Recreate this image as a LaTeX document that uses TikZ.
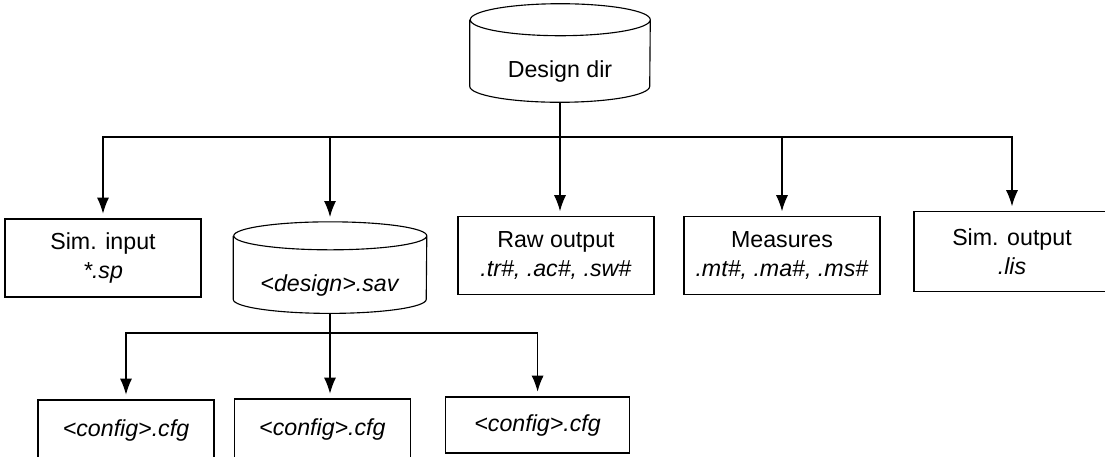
\documentclass[tikz,border=0pt]{standalone}
\usepackage{fontspec}
\setmainfont{Liberation Sans}
\usetikzlibrary{arrows.meta}

\newcommand{\lowtext}[1]{\raisebox{-0.6cm}[0pt][0pt]{#1}}
% drum outline round a named node: node, x radius, y radius
\newcommand{\drumoutline}[3]{%
    \draw[line width=0.8pt] ([yshift=-#3]#1.north west) -- ([yshift=#3]#1.south west)
        arc[start angle=180, end angle=360, x radius=#2, y radius=#3]
        -- ([yshift=-#3]#1.north east)
        arc[start angle=0, end angle=360, x radius=#2, y radius=#3];}

\tikzset{
    filebox/.style={draw, line width=0.8pt, minimum width=4.9cm, minimum height=1.95cm,
        align=center, font=\fontsize{16.5}{21}\selectfont},
    cfgbox/.style={filebox, minimum width=4.4cm, minimum height=1.5cm},
    dirdb/.style={inner sep=0pt, minimum width=4.5cm, minimum height=2.45cm,
        font=\fontsize{16.5}{21}\selectfont},
    link/.style={line width=0.8pt, -{Latex[length=0.4cm,width=0.3cm]}, shorten >=0.12cm}
}

\begin{document}
\begin{tikzpicture}
        \useasboundingbox (0, 0) rectangle (27.625, -11.4);

        \node[dirdb] (dsgn) at (14, -1.325) {\lowtext{Design dir}};
        \drumoutline{dsgn}{2.25cm}{0.4cm}
        \coordinate (hub) at (14, -3.425);

        \node[filebox] (simin) at (2.575, -6.45) {Sim. input\\\textit{*.sp}};
        \node[dirdb, minimum width=4.825cm, minimum height=2.275cm] (sav) at (8.25, -6.69) {\lowtext{\textit{<design>.sav}}};
        \drumoutline{sav}{2.4125cm}{0.35cm}
        \node[filebox] (raw) at (13.9, -6.39) {Raw output\\\textit{.tr\#, .ac\#, .sw\#}};
        \node[filebox] (meas) at (19.55, -6.39) {Measures\\\textit{.mt\#, .ma\#, .ms\#}};
        \node[filebox, minimum height=2cm] (simout) at (25.3, -6.29) {Sim. output\\\textit{.lis}};

        \coordinate (subhub) at (8.25, -8.325);
        \node[cfgbox] (cfga) at (3.15, -10.75) {\textit{<config>.cfg}};
        \node[cfgbox] (cfgb) at (8.06, -10.725) {\textit{<config>.cfg}};
        \node[cfgbox, minimum width=4.6cm, minimum height=1.4cm] (cfgc) at (13.44, -10.625) {\textit{<config>.cfg}};

        % design dir to its contents
        \draw[line width=0.8pt] (dsgn.south) -- (hub);
        \draw[link] (hub) -| (simin.north);
        \draw[link] (hub -| sav.north) -- (sav.north);
        \draw[link] (hub) -- (hub |- raw.north);
        \draw[link] (hub -| meas.north) -- (meas.north);
        \draw[link] (hub) -| (simout.north);

        % saved configurations
        \draw[line width=0.8pt] (sav.south) -- (subhub);
        \draw[link] (subhub) -| (cfga.north);
        \draw[link] (subhub) -- (subhub |- cfgb.north);
        \draw[link] (subhub) -| (cfgc.north);
    \end{tikzpicture}
\end{document}
